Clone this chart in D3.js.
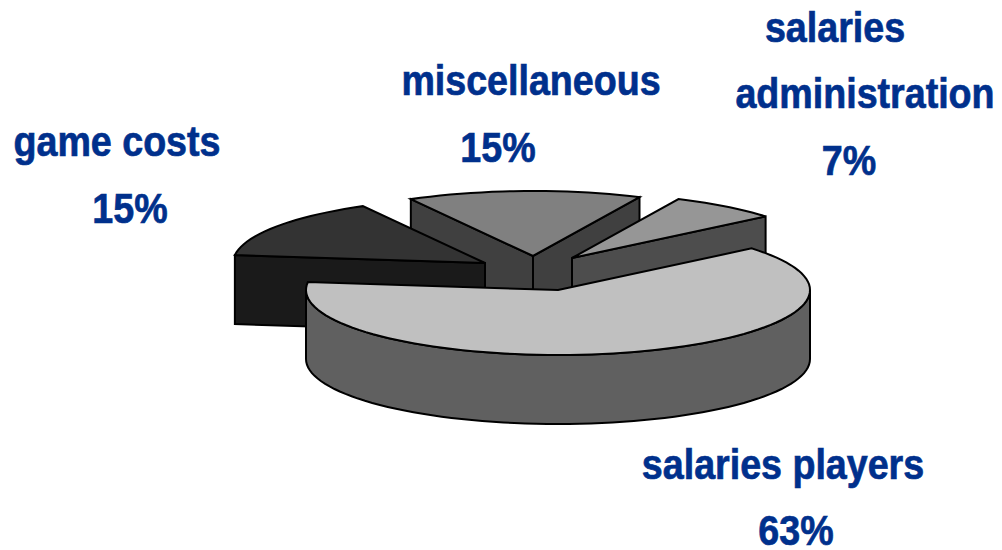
<!DOCTYPE html>
<html><head><meta charset="utf-8">
<script src="https://cdn.jsdelivr.net/npm/d3@7"></script>
<style>html,body{margin:0;padding:0;background:#fff}svg{display:block}</style>
</head><body><svg id="c" width="1002" height="550"></svg>
<script>
const categories = ["salaries administration","salaries players","game costs","miscellaneous"];
const values = [7,63,15,15];
const topColors = ["#969696","#c0c0c0","#333333","#808080"];
const sideColors = ["#4d4d4d","#606060","#1a1a1a","#404040"];
const explodeX = [14,0,-73,-25];
const explodeY = [-32,0,-27,-34];
const labelLines = [["salaries","administration","7%"],["salaries players","63%"],["game costs","15%"],["miscellaneous","15%"]];
const labelCx = [[835,865,849],[783,796],[117,130],[531,498]];
const labelBase = [[42,108,175],[479,545],[156,223],[95,162]];

const svg = d3.select("#c");
const cx0 = 558, cy0 = 290, rx = 252, ry = 65, depth = 69;
const rad = Math.PI/180;
const pie = d3.pie().sort(null).startAngle(25*rad).endAngle(385*rad);
const arcs = pie(values);
const line = d3.line();

const slices = arcs.map((d,i)=>({d,i,cx:cx0+explodeX[i],cy:cy0+explodeY[i]}))
  .sort((a,b)=>a.cy-b.cy);

function pt(s,a,dy=0){return [s.cx+rx*Math.sin(a), s.cy-ry*Math.cos(a)+dy];}
function arcPts(s,a0,a1,dy=0){
  const n=Math.max(2,Math.ceil(Math.abs(a1-a0)/(2.5*rad)));
  return d3.range(n+1).map(k=>pt(s,a0+(a1-a0)*k/n,dy));
}
function faceVisible(s,a,mid){
  const p=pt(s,a), q=pt(s,mid);
  const lineY=s.cy+(p[1]-s.cy)/(p[0]-s.cx)*(q[0]-s.cx);
  return q[1]<lineY;
}
const g = svg.append("g").attr("stroke","#000").attr("stroke-width",2).attr("stroke-linejoin","miter").attr("stroke-miterlimit",4);
slices.forEach(s=>{
  const a0=s.d.startAngle,a1=s.d.endAngle,mid=(a0+a1)/2;
  const side=sideColors[s.i], top=topColors[s.i];
  const c=[s.cx,s.cy], cd=[s.cx,s.cy+depth];
  [a0,a1].filter(a=>faceVisible(s,a,mid)).forEach(a=>{
    g.append("path").attr("fill",side)
      .attr("d",line([c,pt(s,a),pt(s,a,depth),cd])+"Z");
  });
  const w0=Math.max(a0,90*rad),w1=Math.min(a1,270*rad);
  if(w1>w0){
    const up=arcPts(s,w0,w1), dn=arcPts(s,w1,w0,depth);
    g.append("path").attr("fill",side).attr("d",line(up.concat(dn))+"Z");
  }
  g.append("path").attr("fill",top)
    .attr("d",line([c].concat(arcPts(s,a0,a1)))+"Z");
});
const t = svg.append("g").attr("font-family","'Liberation Sans',Arial,sans-serif")
  .attr("font-weight","bold").attr("font-size",43).attr("fill","#00308c")
  .attr("stroke","#00308c").attr("stroke-width",0.7).attr("text-anchor","middle");
const sx=0.875;
labelLines.forEach((lines,i)=>lines.forEach((txt,j)=>{
  t.append("text").attr("transform",`translate(${labelCx[i][j]},${labelBase[i][j]}) scale(${sx},1)`).text(txt);
}));
</script></body></html>
